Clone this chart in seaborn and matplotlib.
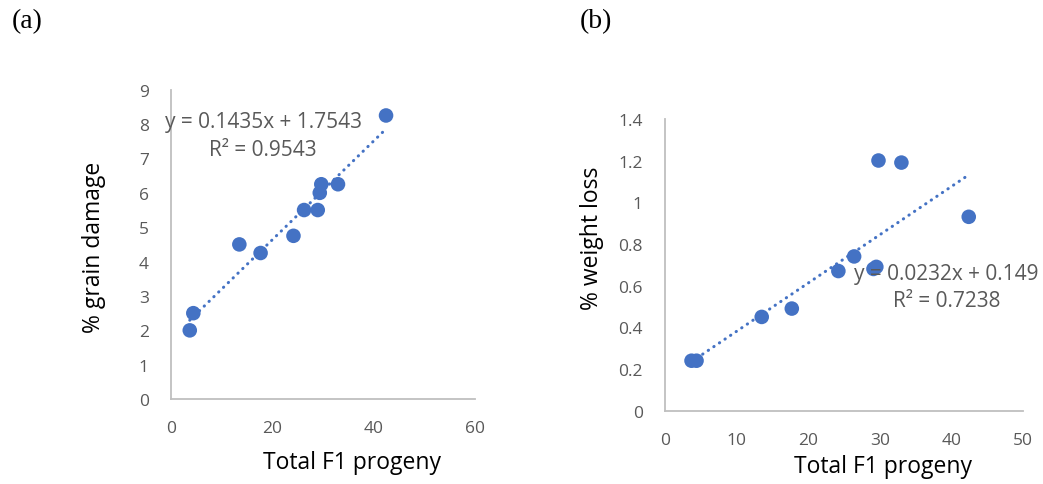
import numpy as np
import pandas as pd
import seaborn as sns
import matplotlib.pyplot as plt
from matplotlib.ticker import FuncFormatter, MultipleLocator

# Dados
progeny = [3.7, 4.4, 13.5, 17.7, 24.2, 26.3, 29.0, 29.4, 29.7, 33.0, 42.5]
grain_damage = [2.0, 2.5, 4.5, 4.25, 4.75, 5.5, 5.5, 6.0, 6.25, 6.25, 8.25]
progeny_b = [3.7, 4.4, 13.5, 17.7, 24.2, 26.4, 29.1, 29.5, 29.8, 33.0, 42.4]
weight_loss = [0.24, 0.24, 0.45, 0.49, 0.67, 0.74, 0.68, 0.69, 1.20, 1.19, 0.93]

df_a = pd.DataFrame({"x": progeny, "y": grain_damage})
df_b = pd.DataFrame({"x": progeny_b, "y": weight_loss})

sns.set_theme(style="white")
plt.rcParams["font.family"] = ["Open Sans", "DejaVu Sans"]

blue = "#4472C4"
grey_txt = "#595959"
grey_ax = "#BFBFBF"

fig = plt.figure(figsize=(10.43, 4.85), dpi=100)
ax_a = fig.add_axes([0.164, 0.175, 0.291, 0.638])
ax_b = fig.add_axes([0.6376, 0.151, 0.3434, 0.602])


def style_axis(ax, xmax, xstep, ymax, ystep):
    sns.despine(ax=ax)
    for s in ["left", "bottom"]:
        ax.spines[s].set_color(grey_ax)
        ax.spines[s].set_linewidth(1.3)
    ax.set_xlim(0, xmax)
    ax.set_ylim(0, ymax)
    ax.xaxis.set_major_locator(MultipleLocator(xstep))
    ax.yaxis.set_major_locator(MultipleLocator(ystep))
    ax.yaxis.set_major_formatter(FuncFormatter(lambda v, p: f"{v:g}"))
    ax.tick_params(axis="both", length=0, labelsize=12.5, labelcolor=grey_txt)
    ax.tick_params(axis="y", pad=16)
    ax.tick_params(axis="x", pad=15)


def draw(ax, df):
    sns.regplot(data=df, x="x", y="y", ax=ax, scatter=False, ci=None,
                color=blue, line_kws={"linestyle": (0, (0.1, 2.1)),
                                      "linewidth": 2.2,
                                      "dash_capstyle": "round"})
    sns.scatterplot(data=df, x="x", y="y", ax=ax, color=blue, s=110,
                    edgecolor="none", zorder=3, clip_on=False)


# (a)
draw(ax_a, df_a)
style_axis(ax_a, 60, 20, 9, 1)
ax_a.set_xlabel("Total F1 progeny", fontsize=16.5, color="black")
ax_a.set_ylabel("% grain damage", fontsize=16.5, color="black")
ax_a.xaxis.set_label_coords(0.595, -0.204)
ax_a.xaxis.label.set_va("center")
ax_a.yaxis.set_label_coords(-0.253, 0.495)
ax_a.yaxis.label.set_va("center")
ax_a.text(0.303, 0.896, "y = 0.1435x + 1.7543", transform=ax_a.transAxes,
          ha="center", va="center", fontsize=15, color=grey_txt)
ax_a.text(0.303, 0.808, "R² = 0.9543", transform=ax_a.transAxes,
          ha="center", va="center", fontsize=15, color=grey_txt)

# (b)
draw(ax_b, df_b)
style_axis(ax_b, 50, 10, 1.4, 0.2)
ax_b.set_xlabel("Total F1 progeny", fontsize=16.5, color="black")
ax_b.set_ylabel("% weight loss", fontsize=16.5, color="black")
ax_b.xaxis.set_label_coords(0.61, -0.19)
ax_b.xaxis.label.set_va("center")
ax_b.yaxis.set_label_coords(-0.204, 0.595)
ax_b.yaxis.label.set_va("center")
ax_b.text(0.786, 0.469, "y = 0.0232x + 0.149", transform=ax_b.transAxes,
          ha="center", va="center", fontsize=15, color=grey_txt, zorder=4)
ax_b.text(0.786, 0.377, "R² = 0.7238", transform=ax_b.transAxes,
          ha="center", va="center", fontsize=15, color=grey_txt, zorder=4)

fig.text(0.026, 0.955, "(a)", family="Liberation Serif", fontsize=20,
         ha="center", va="center", color="black")
fig.text(0.5715, 0.955, "(b)", family="Liberation Serif", fontsize=20,
         ha="center", va="center", color="black")

fig.savefig("out.png", dpi=100)
